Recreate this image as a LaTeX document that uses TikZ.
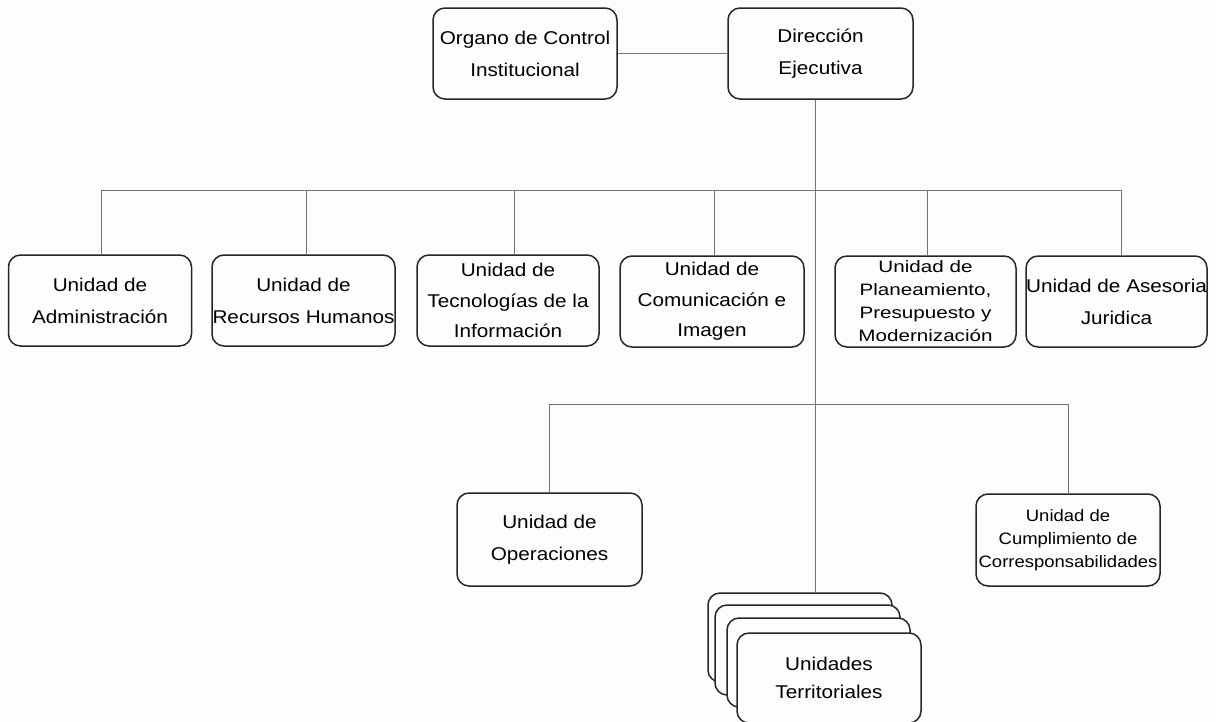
\documentclass[tikz,border=0pt]{standalone}
\usepackage{fontspec}
\setmainfont{Liberation Sans}[FakeStretch=1.12]
\newfontfamily\planfont{Liberation Sans}[FakeStretch=1.25]
\begin{document}
\begin{tikzpicture}[x=1pt,y=-1pt,
  box/.style={draw=black!85, line width=1.5pt, rounded corners=12pt, fill=bgc,
    align=center, inner sep=0pt, minimum height=91pt,
    font=\fontsize{18.5}{32}\selectfont},
  smallbox/.style={box, font=\fontsize{16.5}{23}\selectfont},
  conn/.style={draw=black!55, line width=0.9pt}]
\definecolor{bgc}{HTML}{FDFDFB}
\useasboundingbox[fill=bgc] (0,0) rectangle (1216,721);
% top
\node[box, minimum width=184pt] (org) at (525,53.5) {Organo de Control\\Institucional};
\node[box, minimum width=185pt] (dir) at (820.5,53.5) {Dirección\\Ejecutiva};
% upper row
\node[box, minimum width=183pt] (a1) at (100,300.5) {Unidad de\\Administración};
\node[box, minimum width=183pt] (a2) at (303.5,300.5) {Unidad de\\Recursos Humanos};
\node[box, minimum width=182pt, font=\fontsize{18.5}{30.5}\selectfont] (a3) at (508,300.5) {Unidad de\\Tecnologías de la\\Información};
\node[box, minimum width=184pt, font=\fontsize{18.5}{30.5}\selectfont] (a4) at (712,301.5) {Unidad de\\Comunicación e\\Imagen};
\node[box, minimum width=181pt, font=\planfont\fontsize{16.5}{23}\selectfont] (a5) at (925.5,301.5) {Unidad de\\Planeamiento,\\Presupuesto y\\Modernización};
\node[box, minimum width=181pt] (a6) at (1116.5,301.5) {Unidad de Asesoria\\Juridica};
% lower row
\node[box, minimum width=185pt, minimum height=93pt] (ops) at (549.5,539.5) {Unidad de\\Operaciones};
\node[smallbox, minimum width=184pt, minimum height=92pt] (cum) at (1068,540) {Unidad de\\Cumplimiento de\\Corresponsabilidades};
% stack
\node[box, minimum width=184pt, minimum height=89pt] (t1) at (800,637.5) {};
\node[box, minimum width=185pt, minimum height=90pt] (t2) at (807.5,650) {};
\node[box, minimum width=183pt, minimum height=89pt] (t3) at (818.5,662.5) {};
\node[box, minimum width=184pt, minimum height=90pt, font=\fontsize{18.5}{28}\selectfont] (t4) at (829,678) {Unidades\\Territoriales};
% connectors
\coordinate (busU) at (0,190);
\coordinate (busL) at (0,404);
\draw[conn] (org.east) -- (dir.west);
\draw[conn] ([xshift=-5.5pt]dir.south) -- ([xshift=-5.5pt]dir.south |- t1.north);
\draw[conn] ([xshift=1pt]a1.north) -- ([xshift=1pt]a1.north |- busU) -- ([xshift=4.5pt]a6.north |- busU) -- ([xshift=4.5pt]a6.north);
\draw[conn] ([xshift=2.5pt]a2.north) -- ([xshift=2.5pt]a2.north |- busU);
\draw[conn] ([xshift=6pt]a3.north) -- ([xshift=6pt]a3.north |- busU);
\draw[conn] ([xshift=2pt]a4.north) -- ([xshift=2pt]a4.north |- busU);
\draw[conn] ([xshift=1.5pt]a5.north) -- ([xshift=1.5pt]a5.north |- busU);
\draw[conn] (ops.north) -- (ops.north |- busL) -- (cum.north |- busL) -- (cum.north);
\end{tikzpicture}
\end{document}
